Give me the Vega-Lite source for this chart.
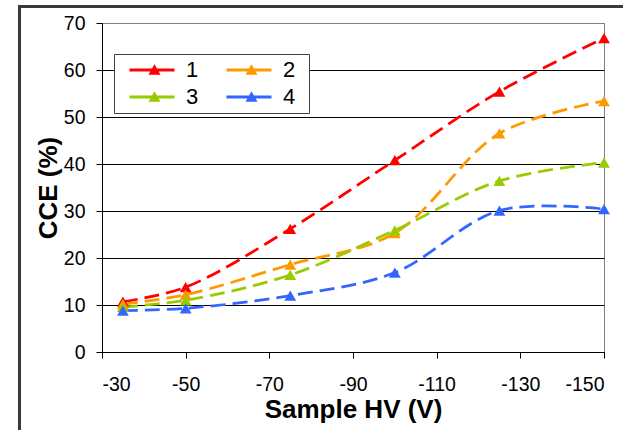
{
  "$schema": "https://vega.github.io/schema/vega-lite/v6.json",
  "width": 502,
  "height": 329,
  "autosize": {"type": "none"},
  "padding": {"left": 102, "top": 23, "right": 19, "bottom": 78},
  "background": "white",
  "config": {
    "view": {"stroke": "#808080", "strokeWidth": 1},
    "font": "Liberation Sans",
    "axis": {
      "labelFont": "Liberation Sans",
      "labelFontSize": 19.5,
      "labelColor": "black",
      "titleFont": "Liberation Sans",
      "titleFontSize": 26,
      "titleFontWeight": "bold",
      "titleColor": "black",
      "domainColor": "black",
      "domainWidth": 1,
      "tickColor": "black",
      "tickWidth": 1,
      "tickSize": 6
    }
  },
  "data": {
    "values": [
      {"series": "1", "hv": -35, "cce": 10.7},
      {"series": "1", "hv": -50, "cce": 13.8},
      {"series": "1", "hv": -75, "cce": 26.2},
      {"series": "1", "hv": -100, "cce": 40.8},
      {"series": "1", "hv": -125, "cce": 55.4},
      {"series": "1", "hv": -150, "cce": 66.8},
      {"series": "2", "hv": -35, "cce": 10.2},
      {"series": "2", "hv": -50, "cce": 12.2},
      {"series": "2", "hv": -75, "cce": 18.6},
      {"series": "2", "hv": -100, "cce": 25.3},
      {"series": "2", "hv": -125, "cce": 46.5},
      {"series": "2", "hv": -150, "cce": 53.4},
      {"series": "3", "hv": -35, "cce": 9.6},
      {"series": "3", "hv": -50, "cce": 11.0},
      {"series": "3", "hv": -75, "cce": 16.4},
      {"series": "3", "hv": -100, "cce": 25.9},
      {"series": "3", "hv": -125, "cce": 36.4},
      {"series": "3", "hv": -150, "cce": 40.3},
      {"series": "4", "hv": -35, "cce": 8.8},
      {"series": "4", "hv": -50, "cce": 9.3},
      {"series": "4", "hv": -75, "cce": 12.0},
      {"series": "4", "hv": -100, "cce": 16.9},
      {"series": "4", "hv": -125, "cce": 30.1},
      {"series": "4", "hv": -150, "cce": 30.4}
    ]
  },
  "encoding": {
    "x": {
      "field": "hv",
      "type": "quantitative",
      "scale": {"domain": [-150, -30], "reverse": true, "nice": false, "zero": false},
      "axis": {
        "values": [-30, -50, -70, -90, -110, -130, -150],
        "labelExpr": "'' + datum.value",
        "title": "Sample HV (V)",
        "grid": false,
        "labelPadding": 17,
        "titlePadding": 3
      }
    },
    "y": {
      "field": "cce",
      "type": "quantitative",
      "scale": {"domain": [0, 70], "nice": false, "zero": true},
      "axis": {
        "values": [0, 10, 20, 30, 40, 50, 60, 70],
        "title": "CCE (%)",
        "grid": true,
        "gridColor": {"condition": {"test": "datum.value == 70", "value": "#808080"}, "value": "black"},
        "gridWidth": 1,
        "labelPadding": 11,
        "titlePadding": 2
      }
    }
  },
  "layer": [
    {
      "mark": {"type": "rule", "color": "#3a3a3a", "strokeWidth": 2, "clip": false},
      "encoding": {
        "x": {"datum": -10.33, "type": "quantitative"},
        "x2": {"datum": -158},
        "y": {"datum": 73.5, "type": "quantitative"}
      }
    },
    {
      "mark": {"type": "rule", "color": "#3a3a3a", "strokeWidth": 2, "clip": false},
      "encoding": {
        "x": {"datum": -10.33, "type": "quantitative"},
        "y": {"datum": 73.7, "type": "quantitative"},
        "y2": {"datum": -18}
      }
    },
    {
      "mark": {"type": "line", "interpolate": "catmull-rom", "strokeWidth": 2.75, "strokeDash": [15, 7]},
      "encoding": {
        "stroke": {
          "field": "series",
          "type": "nominal",
          "scale": {"domain": ["4", "3", "2", "1"], "range": ["#3366FF", "#99CC00", "#FF9900", "#FF0000"]},
          "legend": null
        }
      }
    },
    {
      "mark": {"type": "point", "shape": "triangle-up", "filled": true, "size": 140, "opacity": 1, "strokeWidth": 0},
      "encoding": {
        "color": {
          "field": "series",
          "type": "nominal",
          "scale": {"domain": ["1", "2", "3", "4"], "range": ["#FF0000", "#FF9900", "#99CC00", "#3366FF"]},
          "legend": {
            "title": null,
            "orient": "none",
            "direction": "horizontal",
            "legendX": 12,
            "legendY": 31,
            "columns": 2,
            "symbolType": "M-4.2,0L-4.2,0M7.3,0L7.3,0M-3,-0.2H3V0.2H-3ZM0.33,-0.78L1.13,0.62H-0.47Z",
            "symbolSize": 225,
            "symbolOffset": 22,
            "symbolStrokeWidth": 0,
            "symbolOpacity": 1,
            "labelFont": "Liberation Sans",
            "labelFontSize": 22,
            "labelLimit": 100,
            "labelColor": "black",
            "labelOffset": 23,
            "columnPadding": 9,
            "rowPadding": 5,
            "padding": 5,
            "strokeColor": "#404040",
            "fillColor": "white"
          }
        }
      }
    }
  ]
}
